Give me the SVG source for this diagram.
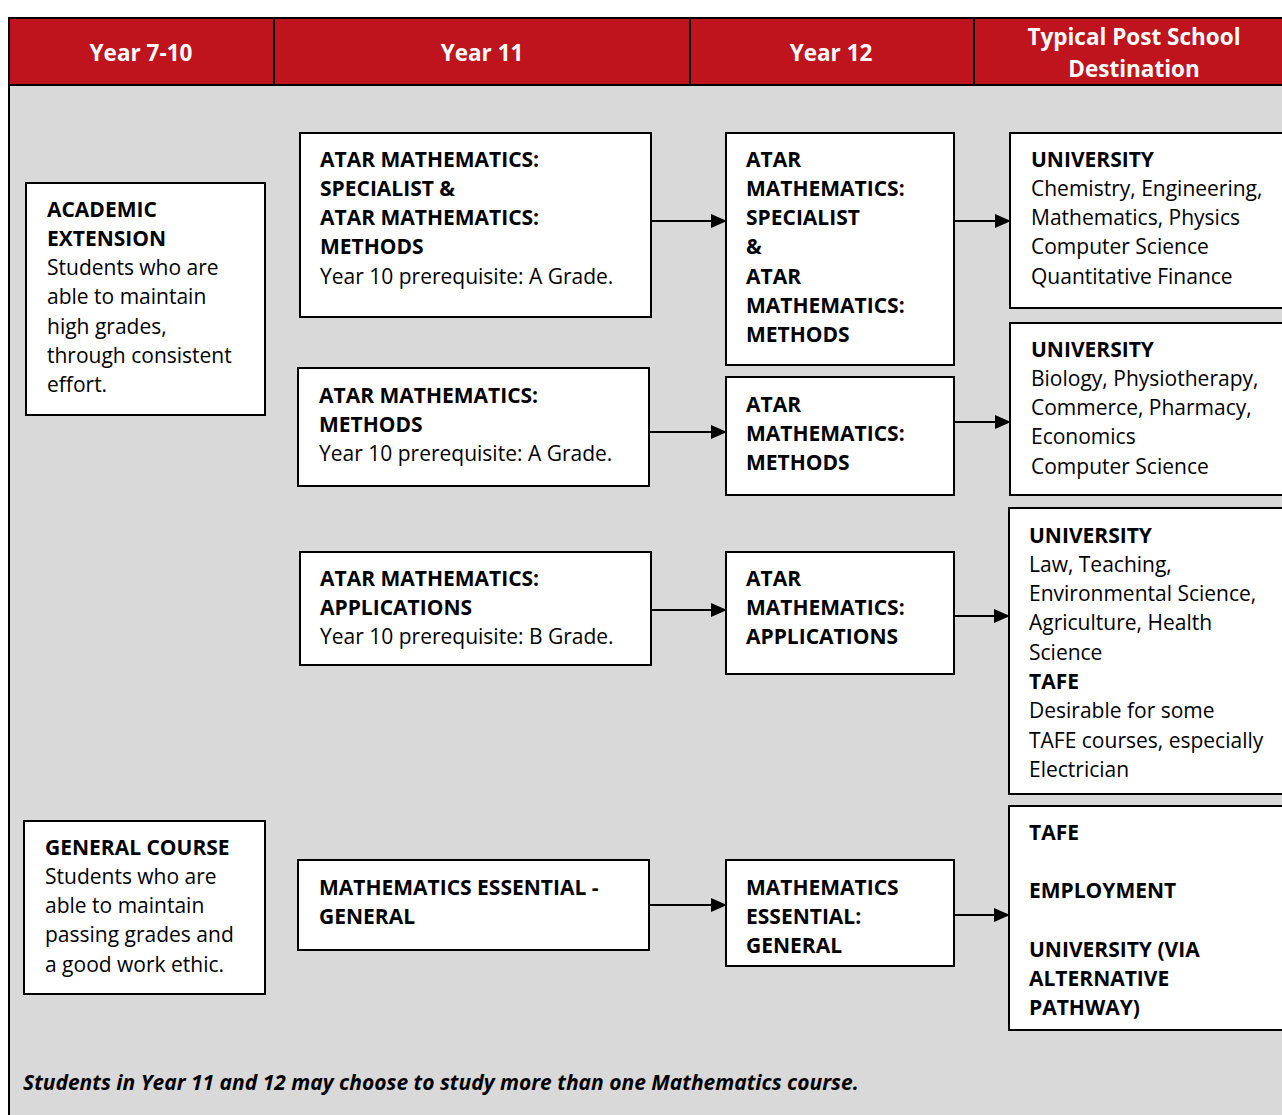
<svg xmlns="http://www.w3.org/2000/svg" width="1282" height="1115" viewBox="0 0 1282 1115">
<defs>
<style>
.hd{fill:#BF131D;stroke:#000;stroke-width:2}
.ht{font-family:"Open Sans","Liberation Sans",sans-serif;font-weight:bold;font-size:22.5px;fill:#fff;text-anchor:middle}
.bx{fill:#fff;stroke:#000;stroke-width:2}
.t{font-family:"Open Sans","Liberation Sans",sans-serif;font-size:21px;fill:#000}
.b{font-weight:bold}
.cn{stroke:#000;stroke-width:2;fill:none;marker-end:url(#ah)}
</style>
<marker id="ah" markerWidth="16" markerHeight="14" refX="15" refY="7" orient="auto" markerUnits="userSpaceOnUse">
<path d="M0,0 L16,7 L0,14 Z" fill="#000"/>
</marker>
</defs>
<rect x="0" y="0" width="1282" height="1115" fill="#fff"/>
<rect x="9" y="85" width="1280" height="1040" fill="#D9D9D9" stroke="#000" stroke-width="2"/>
<g id="header">
<rect class="hd" x="9" y="18" width="265" height="67"/>
<rect class="hd" x="274" y="18" width="416" height="67"/>
<rect class="hd" x="690" y="18" width="284" height="67"/>
<rect class="hd" x="974" y="18" width="320" height="67"/>
<text class="ht" x="141" y="61">Year 7-10</text>
<text class="ht" x="482" y="61">Year 11</text>
<text class="ht" x="831" y="61">Year 12</text>
<text class="ht" x="1134" y="45">Typical Post School</text>
<text class="ht" x="1134" y="77">Destination</text>
</g>
<g id="connectors">
<line class="cn" x1="651" y1="221" x2="726" y2="221"/>
<line class="cn" x1="954" y1="221" x2="1010" y2="221"/>
<line class="cn" x1="649" y1="432" x2="726" y2="432"/>
<line class="cn" x1="954" y1="422" x2="1010" y2="422"/>
<line class="cn" x1="651" y1="610" x2="726" y2="610"/>
<line class="cn" x1="954" y1="616" x2="1009" y2="616"/>
<line class="cn" x1="649" y1="905" x2="726" y2="905"/>
<line class="cn" x1="954" y1="915" x2="1009" y2="915"/>
</g>
<g id="academic">
<rect class="bx" x="26" y="183" width="239" height="232"/>
<text class="t" x="47" y="216.5"><tspan class="b">ACADEMIC</tspan><tspan class="b" x="47" dy="29.3">EXTENSION</tspan><tspan x="47" dy="29.3">Students who are</tspan><tspan x="47" dy="29.3">able to maintain</tspan><tspan x="47" dy="29.3">high grades,</tspan><tspan x="47" dy="29.3">through consistent</tspan><tspan x="47" dy="29.3">effort.</tspan></text>
</g>
<g id="general">
<rect class="bx" x="24" y="821" width="241" height="173"/>
<text class="t" x="45" y="854.5"><tspan class="b">GENERAL COURSE</tspan><tspan x="45" dy="29.3">Students who are</tspan><tspan x="45" dy="29.3">able to maintain</tspan><tspan x="45" dy="29.3">passing grades and</tspan><tspan x="45" dy="29.3">a good work ethic.</tspan></text>
</g>
<g id="y11-spec-methods">
<rect class="bx" x="300" y="133" width="351" height="184"/>
<text class="t" x="320" y="166.5"><tspan class="b">ATAR MATHEMATICS:</tspan><tspan class="b" x="320" dy="29.3">SPECIALIST &amp;</tspan><tspan class="b" x="320" dy="29.3">ATAR MATHEMATICS:</tspan><tspan class="b" x="320" dy="29.3">METHODS</tspan><tspan x="320" dy="29.3">Year 10 prerequisite: A Grade.</tspan></text>
</g>
<g id="y11-methods">
<rect class="bx" x="298" y="368" width="351" height="118"/>
<text class="t" x="319" y="402.5"><tspan class="b">ATAR MATHEMATICS:</tspan><tspan class="b" x="319" dy="29.3">METHODS</tspan><tspan x="319" dy="29.3">Year 10 prerequisite: A Grade.</tspan></text>
</g>
<g id="y11-applications">
<rect class="bx" x="300" y="552" width="351" height="113"/>
<text class="t" x="320" y="585.5"><tspan class="b">ATAR MATHEMATICS:</tspan><tspan class="b" x="320" dy="29.3">APPLICATIONS</tspan><tspan x="320" dy="29.3">Year 10 prerequisite: B Grade.</tspan></text>
</g>
<g id="y11-essential">
<rect class="bx" x="298" y="860" width="351" height="90"/>
<text class="t b" x="319" y="894.5"><tspan>MATHEMATICS ESSENTIAL -</tspan><tspan x="319" dy="29.3">GENERAL</tspan></text>
</g>
<g id="y12-spec-methods">
<rect class="bx" x="726" y="133" width="228" height="232"/>
<text class="t b" x="746" y="166.5"><tspan>ATAR</tspan><tspan x="746" dy="29.3">MATHEMATICS:</tspan><tspan x="746" dy="29.3">SPECIALIST</tspan><tspan x="746" dy="29.3">&amp;</tspan><tspan x="746" dy="29.3">ATAR</tspan><tspan x="746" dy="29.3">MATHEMATICS:</tspan><tspan x="746" dy="29.3">METHODS</tspan></text>
</g>
<g id="y12-methods">
<rect class="bx" x="726" y="377" width="228" height="118"/>
<text class="t b" x="746" y="411.5"><tspan>ATAR</tspan><tspan x="746" dy="29.3">MATHEMATICS:</tspan><tspan x="746" dy="29.3">METHODS</tspan></text>
</g>
<g id="y12-applications">
<rect class="bx" x="726" y="552" width="228" height="122"/>
<text class="t b" x="746" y="585.5"><tspan>ATAR</tspan><tspan x="746" dy="29.3">MATHEMATICS:</tspan><tspan x="746" dy="29.3">APPLICATIONS</tspan></text>
</g>
<g id="y12-essential">
<rect class="bx" x="726" y="860" width="228" height="106"/>
<text class="t b" x="746" y="894.5"><tspan>MATHEMATICS</tspan><tspan x="746" dy="29.3">ESSENTIAL:</tspan><tspan x="746" dy="29.3">GENERAL</tspan></text>
</g>
<g id="dest-1">
<rect class="bx" x="1010" y="133" width="290" height="175"/>
<text class="t" x="1031" y="166.5"><tspan class="b">UNIVERSITY</tspan><tspan x="1031" dy="29.3">Chemistry, Engineering,</tspan><tspan x="1031" dy="29.3">Mathematics, Physics</tspan><tspan x="1031" dy="29.3">Computer Science</tspan><tspan x="1031" dy="29.3">Quantitative Finance</tspan></text>
</g>
<g id="dest-2">
<rect class="bx" x="1010" y="323" width="290" height="172"/>
<text class="t" x="1031" y="356.5"><tspan class="b">UNIVERSITY</tspan><tspan x="1031" dy="29.3">Biology, Physiotherapy,</tspan><tspan x="1031" dy="29.3">Commerce, Pharmacy,</tspan><tspan x="1031" dy="29.3">Economics</tspan><tspan x="1031" dy="29.3">Computer Science</tspan></text>
</g>
<g id="dest-3">
<rect class="bx" x="1009" y="508" width="290" height="286"/>
<text class="t" x="1029" y="542.5"><tspan class="b">UNIVERSITY</tspan><tspan x="1029" dy="29.3">Law, Teaching,</tspan><tspan x="1029" dy="29.3">Environmental Science,</tspan><tspan x="1029" dy="29.3">Agriculture, Health</tspan><tspan x="1029" dy="29.3">Science</tspan><tspan class="b" x="1029" dy="29.3">TAFE</tspan><tspan x="1029" dy="29.3">Desirable for some</tspan><tspan x="1029" dy="29.3">TAFE courses, especially</tspan><tspan x="1029" dy="29.3">Electrician</tspan></text>
</g>
<g id="dest-4">
<rect class="bx" x="1009" y="806" width="290" height="224"/>
<text class="t b" x="1029" y="839.5"><tspan>TAFE</tspan><tspan x="1029" dy="58.6">EMPLOYMENT</tspan><tspan x="1029" dy="58.6">UNIVERSITY (VIA</tspan><tspan x="1029" dy="29.3">ALTERNATIVE</tspan><tspan x="1029" dy="29.3">PATHWAY)</tspan></text>
</g>
<text class="t b" x="23" y="1089.5" font-style="italic">Students in Year 11 and 12 may choose to study more than one Mathematics course.</text>
</svg>
